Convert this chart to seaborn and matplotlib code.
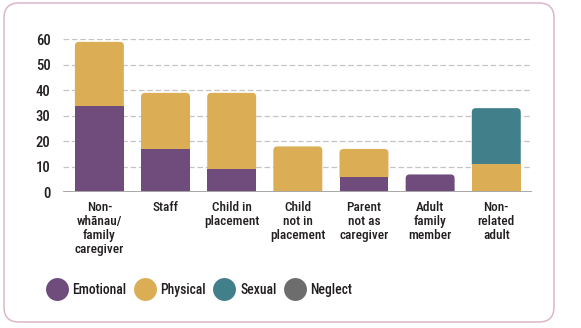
import matplotlib
matplotlib.use("Agg")
import matplotlib.pyplot as plt
from matplotlib import font_manager
from matplotlib.patches import FancyBboxPatch, PathPatch, Rectangle
from matplotlib.path import Path
from matplotlib.lines import Line2D
import seaborn as sns
import numpy as np

# --- data -------------------------------------------------------------
categories = [
    "Non-\nwhānau/\nfamily\ncaregiver",
    "Staff",
    "Child in\nplacement",
    "Child\nnot in\nplacement",
    "Parent\nnot as\ncaregiver",
    "Adult\nfamily\nmember",
    "Non-\nrelated\nadult",
]
emotional = [34, 17, 9, 0, 6, 7, 0]
physical = [25, 22, 30, 18, 11, 0, 11]
sexual = [0, 0, 0, 0, 0, 0, 22]
neglect = [0, 0, 0, 0, 0, 0, 0]
series_names = ["Emotional", "Physical", "Sexual", "Neglect"]
y_ticks = [0, 10, 20, 30, 40, 50, 60]

colors = {
    "Emotional": "#6f4c7c",
    "Physical": "#dbae55",
    "Sexual": "#41808a",
    "Neglect": "#6d6d6d",
}
text_color = "#231f20"

sns.set_theme(style="white")
available = {f.name for f in font_manager.fontManager.ttflist}
family = "DejaVu Sans"
for cand in ["Roboto Condensed", "Liberation Sans Narrow", "Roboto", "Liberation Sans"]:
    if cand in available:
        family = cand
        break
plt.rcParams["font.family"] = [family, "DejaVu Sans"]
plt.rcParams["font.weight"] = "medium"

W, H, DPI = 5.81, 3.28, 100
fig = plt.figure(figsize=(W, H), dpi=DPI)
ax_left_px, ax_right_px = 63, 532
ax_bottom_px, ax_top_px = 192.3, 39.3
ax = fig.add_axes([
    ax_left_px / 581,
    1 - ax_bottom_px / 328,
    (ax_right_px - ax_left_px) / 581,
    (ax_bottom_px - ax_top_px) / 328,
])

# stacked bars: seaborn draws the cumulative totals, top layer first
layers = np.array([emotional, physical, sexual, neglect])
cumulative = np.cumsum(layers, axis=0)
totals = cumulative[-1]
bar_width = 0.74
draw_order = list(range(len(series_names) - 1, -1, -1))
for idx in draw_order:
    sns.barplot(
        x=categories,
        y=cumulative[idx],
        color=colors[series_names[idx]],
        saturation=1,
        width=bar_width,
        ax=ax,
        linewidth=0,
        zorder=3,
    )

xlim = (-0.55, 6.54)
ylim = (0, 60)
ax.set_xlim(*xlim)
ax.set_ylim(*ylim)

# turn each overlapping bar into its own segment; round the top corners
# of the uppermost segment in each column
px_per_x = (ax_right_px - ax_left_px) / (xlim[1] - xlim[0])
px_per_y = (ax_bottom_px - ax_top_px) / (ylim[1] - ylim[0])
radius_px = 4.0
rx, ry = radius_px / px_per_x, radius_px / px_per_y
seam = 0.3  # tuck each upper segment slightly under the one below it


def bar_path(x0, x1, y0, y1, rounded):
    if not rounded:
        verts = [(x0, y0), (x1, y0), (x1, y1), (x0, y1), (x0, y0)]
        codes = [Path.MOVETO, Path.LINETO, Path.LINETO, Path.LINETO, Path.CLOSEPOLY]
        return Path(verts, codes)
    r_y = min(ry, (y1 - y0))
    verts = [
        (x0, y0), (x1, y0), (x1, y1 - r_y), (x1, y1), (x1 - rx, y1),
        (x0 + rx, y1), (x0, y1), (x0, y1 - r_y), (x0, y0),
    ]
    codes = [
        Path.MOVETO, Path.LINETO, Path.LINETO, Path.CURVE3, Path.CURVE3,
        Path.LINETO, Path.CURVE3, Path.CURVE3, Path.CLOSEPOLY,
    ]
    return Path(verts, codes)


rects = [p for p in ax.patches if isinstance(p, Rectangle)]
n_cat = len(categories)
for k, rect in enumerate(rects):
    idx = draw_order[k // n_cat]
    x0, w = rect.get_x(), rect.get_width()
    y1 = rect.get_y() + rect.get_height()
    face = rect.get_facecolor()
    rect.remove()
    i = int(round(x0 + w / 2))
    seg = layers[idx][i]
    if seg <= 0:
        continue
    y0 = y1 - seg
    if y0 > 0:
        y0 -= seam
    top = abs(y1 - totals[i]) < 1e-9
    ax.add_patch(PathPatch(bar_path(x0, x0 + w, y0, y1, top),
                           facecolor=face, edgecolor="none", linewidth=0, zorder=3))

# gridlines and baseline
for t in y_ticks[1:]:
    ax.axhline(t, color="#c4c4c4", linewidth=0.9, linestyle=(0, (4.5, 2.2)), zorder=1)
ax.axhline(0, color="#a8a8a8", linewidth=1.4, zorder=4)

for side in ["top", "right", "left", "bottom"]:
    ax.spines[side].set_visible(False)
ax.set_yticks(y_ticks)
ax.set_yticklabels([str(t) for t in y_ticks])
ax.tick_params(axis="y", length=0, pad=9, labelsize=10.5, labelcolor=text_color)
ax.tick_params(axis="x", length=0, pad=6, labelsize=9.5, labelcolor=text_color)
for lab in ax.get_xticklabels():
    lab.set_linespacing(1.12)
    lab.set_horizontalalignment("center")
ax.set_xlabel("")
ax.set_ylabel("")

# legend with round swatches
handles = [
    Line2D([0], [0], marker="o", linestyle="none", markersize=16.5,
           markerfacecolor=colors[n], markeredgecolor="none", label=n)
    for n in series_names
]
fig.legend(
    handles=handles, loc="center left", bbox_to_anchor=(45 / 581, 1 - 290 / 328),
    ncol=4, frameon=False, fontsize=9.8, handlelength=1.7, handletextpad=0.3,
    columnspacing=0.5, borderpad=0, borderaxespad=0, labelcolor=text_color,
)

# rounded frame around the whole figure
frame = FancyBboxPatch(
    (0.04, 0.06), 5.50, 3.19,
    boxstyle="round,pad=0,rounding_size=0.15",
    transform=fig.dpi_scale_trans, facecolor="none",
    edgecolor="#dbb6ca", linewidth=1.1,
)
fig.patches.append(frame)

fig.savefig("out.png", dpi=DPI)
